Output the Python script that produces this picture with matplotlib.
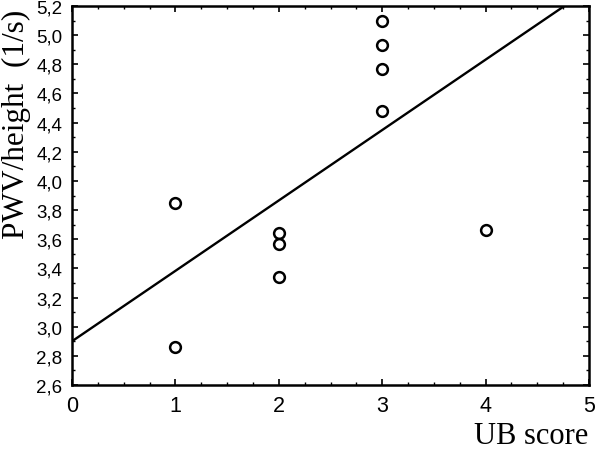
import matplotlib
matplotlib.use("Agg")
import matplotlib.pyplot as plt
from matplotlib.ticker import MultipleLocator, FuncFormatter

# data
ub_score = [1, 1, 2, 2, 2, 3, 3, 3, 3, 4]
pwv_height = [3.85, 2.86, 3.64, 3.57, 3.34, 5.10, 4.93, 4.77, 4.48, 3.66]

# regression line
fit_intercept = 2.90
fit_slope = 0.483
fit_x = [0, 5]

fig = plt.figure(figsize=(6.0, 4.56), dpi=100)
ax = fig.add_axes([72 / 600, 1 - 386 / 456, (589 - 72) / 600, (386 - 7) / 456])

ax.plot(fit_x, [fit_intercept + fit_slope * x for x in fit_x], color="black", lw=1.7)
ax.scatter(ub_score, pwv_height, s=60, facecolors="white", edgecolors="black",
           linewidths=1.8, zorder=3, clip_on=False)

ax.set_xlim(0, 5)
ax.set_ylim(2.6, 5.2)

ax.xaxis.set_major_locator(MultipleLocator(1))
ax.xaxis.set_minor_locator(MultipleLocator(0.25))
ax.yaxis.set_major_locator(MultipleLocator(0.2))
ax.yaxis.set_minor_locator(MultipleLocator(0.1))
ax.yaxis.set_major_formatter(FuncFormatter(lambda v, p: f"{v:.1f}".replace(".", ",")))

ax.tick_params(which="both", direction="in", top=True, right=True, color="black")
ax.tick_params(which="major", length=4, width=1.2)
ax.tick_params(which="minor", length=2.5, width=1.0)
ax.tick_params(axis="x", which="major", labelsize=15.5, pad=7)
ax.tick_params(axis="y", which="major", labelsize=13.5, pad=7)
for lab in ax.get_xticklabels() + ax.get_yticklabels():
    lab.set_family("Liberation Sans")

for sp in ax.spines.values():
    sp.set_linewidth(1.8)

fig.text(588 / 600, 1 - 437 / 456, "UB score", ha="right", va="center",
         family="Liberation Serif", fontsize=22)
fig.text(16 / 600, 1 - 124 / 456, "PWV/height  (1/s)", ha="center", va="center",
         rotation=90, family="Liberation Serif", fontsize=22.5)

fig.savefig("out.png", dpi=100)
